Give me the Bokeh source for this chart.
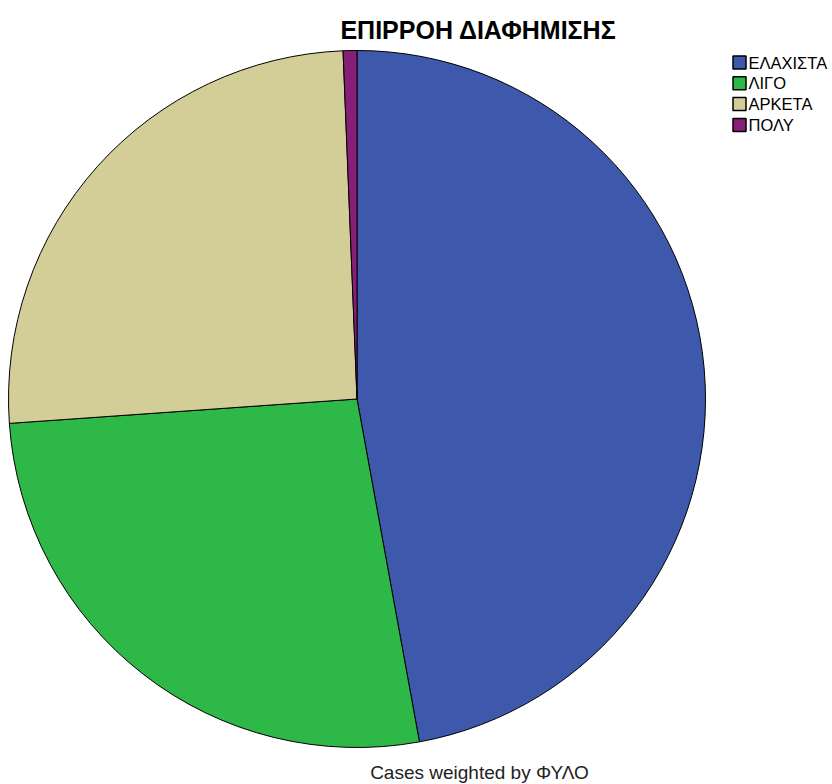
import math
from bokeh.plotting import figure
from bokeh.models import Range1d, ColumnDataSource
from bokeh.core.properties import value
from bokeh.embed import file_html
from bokeh.resources import INLINE

title = "ΕΠΙΡΡΟΗ ΔΙΑΦΗΜΙΣΗΣ"
footer = "Cases weighted by ΦΥΛΟ"
categories = ["ΕΛΑΧΙΣΤΑ", "ΛΙΓΟ", "ΑΡΚΕΤΑ", "ΠΟΛΥ"]
counts = [74, 42, 40, 1]
colors = ["#3E58AC", "#2EB848", "#D3CE97", "#871E78"]

W, H = 832, 784
p = figure(width=W, height=H, output_backend="svg", toolbar_location=None,
           x_range=Range1d(0, W), y_range=Range1d(0, H), min_border=0,
           outline_line_color=None)
p.axis.visible = False
p.grid.visible = False
p.background_fill_color = "white"
p.border_fill_color = "white"

total = sum(counts)
starts, ends = [], []
cum = 0.0
for c in counts:
    a0 = math.pi / 2 - 2 * math.pi * cum / total
    cum += c
    a1 = math.pi / 2 - 2 * math.pi * cum / total
    starts.append(a0)
    ends.append(a1)

cx, cy, r = 356.5, H - 398.5, 348.5
src = ColumnDataSource(dict(cat=categories, start=starts, end=ends, color=colors))
p.wedge(x=cx, y=cy, radius=r, start_angle="start", end_angle="end", direction="clock",
        fill_color="color", line_color="black", line_width=1, source=src)

# legend
ly = [H - (62 + 20.8 * i) for i in range(len(categories))]
lsrc = ColumnDataSource(dict(cat=categories, color=colors, y=ly,
                             x=[739] * len(categories), tx=[748] * len(categories)))
p.rect(x="x", y="y", width=13, height=13, fill_color="color", line_color="black",
       line_width=1.5, source=lsrc)
p.text(x="tx", y="y", text="cat", text_font=value("Liberation Sans"), text_font_size="16.5px",
       text_baseline="middle", text_align="left", text_color="black", source=lsrc)

p.text(x=[478], y=[H - 29], text=[title], text_font=value("Liberation Sans"),
       text_font_size="25px", text_font_style="bold", text_align="center",
       text_baseline="middle", text_color="black")
p.text(x=[479], y=[H - 772], text=[footer], text_font=value("Liberation Sans"),
       text_font_size="19px", text_align="center", text_baseline="middle",
       text_color="#222222")

open("out.html", "w").write(file_html(p, INLINE))
